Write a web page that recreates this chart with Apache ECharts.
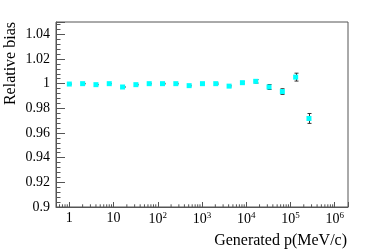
<!DOCTYPE html>
<html><head><meta charset="utf-8">
<script src="https://cdn.jsdelivr.net/npm/echarts@6/dist/echarts.min.js"></script>
<style>html,body{margin:0;padding:0;background:#fff}#c{width:374px;height:252px}</style>
</head><body><div id="c"></div>
<script>
// Data
const momenta = [1,2,4,8,16,32,64,128,256,512,1024,2048,4096,8192,16384,32768,65536,131072,262144];
const bias    = [0.9997,1.0000,0.9992,1.0000,0.9973,0.9992,1.0000,1.0000,1.0000,0.9984,1.0000,1.0000,0.9980,1.0008,1.0019,0.9973,0.9936,1.0053,0.9718];
const biasErr = [0.0002,0.0002,0.0002,0.0002,0.0003,0.0003,0.0003,0.0003,0.0003,0.0003,0.0004,0.0005,0.0006,0.0008,0.0014,0.0020,0.0023,0.0032,0.0040];
const xMinorTicks = [];
[0.1,1,10,100,1000,10000,100000,1000000].forEach(function(d){[2,3,4,5,6,7,8,9].forEach(function(m){xMinorTicks.push(m*d);});});
const supLabels = {1:'1',10:'10'};

const FONT = '"Liberation Serif", "DejaVu Serif", serif';
const chart = echarts.init(document.getElementById('c'), null, {renderer:'canvas'});

const xMin = 0.5, xMax = 2e6, yMin = 0.9, yMax = 1.05;

function xLabel(v){
  const e = Math.round(Math.log10(v));
  if (Math.abs(Math.log10(v) - e) > 1e-6) return '';
  if (e === 0) return '1';
  if (e === 1) return '10';
  return '10{sup|' + e + '}';
}

const option = {
  animation:false,
  grid:{left:56, top:22, right:26, bottom:45, show:true, borderColor:'#555', borderWidth:1, backgroundColor:'transparent'},
  xAxis:{
    type:'log', logBase:10, min:xMin, max:xMax,
    axisLine:{show:true, onZero:false, lineStyle:{color:'#555', width:1}},
    axisTick:{show:true, inside:true, length:5, lineStyle:{color:'#555'}},
    minorTick:{show:false},
    splitLine:{show:false},
    axisLabel:{
      margin:4, color:'#000', fontFamily:FONT, fontSize:14,
      showMinLabel:true, showMaxLabel:true,
      formatter:xLabel,
      rich:{sup:{fontSize:9, fontFamily:FONT, color:'#000', verticalAlign:'top', padding:[0,0,8,0]}}
    }
  },
  yAxis:{
    type:'value', min:yMin, max:yMax, interval:0.02,
    axisLine:{show:true, lineStyle:{color:'#555', width:1}},
    axisTick:{show:true, inside:true, length:9, lineStyle:{color:'#555'}},
    minorTick:{show:true, splitNumber:5, length:4.5, lineStyle:{color:'#555'}},
    splitLine:{show:false},
    axisLabel:{margin:6, color:'#000', fontFamily:FONT, fontSize:14, showMaxLabel:false,
      formatter:function(v){ return v > 1.045 ? '' : String(+v.toFixed(2)); }}
  },
  graphic:[
    {type:'text', x:347, y:241, style:{text:'Generated p(MeV/c)', font:'16px '+FONT, fill:'#000', textAlign:'right', textVerticalAlign:'middle'}},
    {type:'text', x:11, y:22, rotation:Math.PI/2, style:{text:'Relative bias', font:'16px '+FONT, fill:'#000', textAlign:'right', textVerticalAlign:'middle'}}
  ],
  series:[
    {
      type:'custom', name:'xminor', silent:true, clip:true,
      data:xMinorTicks.filter(function(v){return v>xMin && v<xMax;}).map(function(v){return [v];}),
      renderItem:function(params, api){
        const p = api.coord([api.value(0), yMin]);
        return {type:'line', shape:{x1:p[0], y1:p[1], x2:p[0], y2:p[1]-2.7}, style:{stroke:'#555', lineWidth:1}};
      }
    },
    {
      type:'custom', name:'err', silent:true,
      data:momenta.map(function(x,i){return [x, bias[i]-biasErr[i], bias[i]+biasErr[i]];}),
      renderItem:function(params, api){
        const lo = api.coord([api.value(0), api.value(1)]);
        const hi = api.coord([api.value(0), api.value(2)]);
        const x = Math.round(lo[0]) + 0.5;
        const w = 2;
        return {type:'group', children:[
          {type:'line', shape:{x1:x, y1:lo[1], x2:x, y2:hi[1]}, style:{stroke:'#333', lineWidth:1}},
          {type:'line', shape:{x1:x-w, y1:lo[1], x2:x+w, y2:lo[1]}, style:{stroke:'#333', lineWidth:1}},
          {type:'line', shape:{x1:x-w, y1:hi[1], x2:x+w, y2:hi[1]}, style:{stroke:'#333', lineWidth:1}}
        ]};
      }
    },
    {
      type:'scatter', name:'bias', symbol:'rect', symbolSize:5,
      itemStyle:{color:'#00ffff', opacity:1},
      data:momenta.map(function(x,i){return [x, bias[i]];})
    }
  ]
};
chart.setOption(option);
</script>
</body></html>
